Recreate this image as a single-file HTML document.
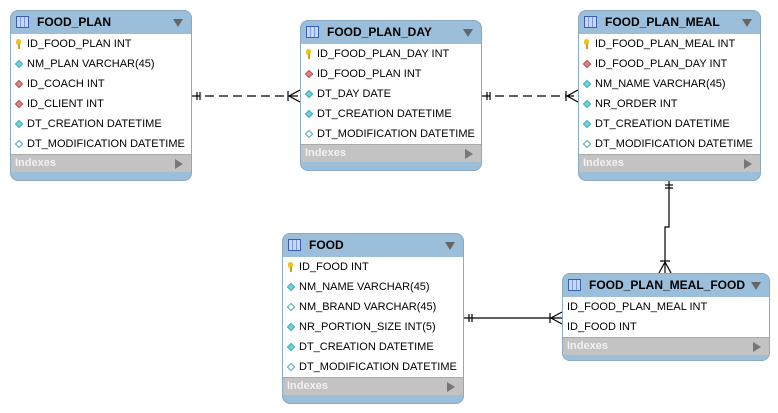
<!DOCTYPE html>
<html><head><meta charset="utf-8"><style>
html,body{margin:0;padding:0;background:#fff;width:778px;height:413px;overflow:hidden}
body{position:relative;font-family:"Liberation Sans",sans-serif}
.t{position:absolute;background:#9bbfda;border:1px solid #8aa9c2;border-radius:8px;overflow:hidden;box-sizing:border-box}
.h{height:23px;position:relative;font-weight:bold;font-size:12px;color:#000;line-height:23px;padding-left:26px}
.h .ic{position:absolute;left:5px;top:5px;width:13px;height:12px;border:1px solid #3a5fb0;background:repeating-linear-gradient(90deg,#c8d8f4 0 3px,#7f9ad6 3px 4px);box-sizing:border-box}
.h .ar{position:absolute;right:8px;top:8px;width:0;height:0;border-left:5px solid transparent;border-right:5px solid transparent;border-top:8px solid #666}
.b{background:#fff}
.r{height:20px;line-height:20px;font-size:11px;color:#000;position:relative;padding-left:16px;white-space:nowrap}
.r.n{padding-left:4px}
.d{position:absolute;left:5px;top:7px;width:6px;height:6px;transform:rotate(45deg);box-sizing:border-box}
.c{background:#6fd3dc;border:1px solid #4aa9b2}
.f{background:#e08080;border:1px solid #b05858}
.o{background:#fff;border:1px solid #4aa9b2}
.k{position:absolute;left:5px;top:5px;width:5px;height:6px;border-radius:3px;background:#f0c020}
.k:after{content:"";position:absolute;left:2px;top:5px;width:2px;height:5px;background:#d0a010}
.x{height:18px;background:#c3c3c3;color:#f2f2f2;font-size:11px;font-weight:bold;line-height:17px;padding-left:4px;position:relative;border-top:1px solid #aaa;box-sizing:border-box}
.x:after{content:"";position:absolute;right:8px;top:4px;border-top:5px solid transparent;border-bottom:5px solid transparent;border-left:8px solid #777}
</style></head><body>
<svg width="778" height="413" style="position:absolute;left:0;top:0" xmlns="http://www.w3.org/2000/svg">
<g stroke="#000" stroke-width="1.2" fill="none">
<line x1="191" y1="96" x2="300" y2="96" stroke-dasharray="9,5"/>
<line x1="197" y1="92" x2="197" y2="100"/><line x1="200" y1="92" x2="200" y2="100"/>
<line x1="288" y1="91" x2="288" y2="101"/><path d="M300 90 L289 96 L300 102"/>
<line x1="481" y1="96" x2="578" y2="96" stroke-dasharray="9,5"/>
<line x1="487" y1="92" x2="487" y2="100"/><line x1="490" y1="92" x2="490" y2="100"/>
<line x1="566" y1="91" x2="566" y2="101"/><path d="M578 90 L567 96 L578 102"/>
<line x1="463" y1="318" x2="562" y2="318"/>
<line x1="469" y1="314" x2="469" y2="322"/><line x1="472" y1="314" x2="472" y2="322"/>
<line x1="550" y1="313" x2="550" y2="323"/><path d="M562 312 L551 318 L562 324"/>
<path d="M669 180 L669 227 L665 227 L665 273"/>
<line x1="665" y1="185" x2="673" y2="185"/><line x1="665" y1="188" x2="673" y2="188"/>
<line x1="660" y1="261" x2="670" y2="261"/><path d="M659 273 L665 262 L671 273"/>
</g></svg>

<div class="t" style="left:10px;top:10px;width:182px;height:171px">
<div class="h"><span class="ic"></span>FOOD_PLAN<span class="ar"></span></div>
<div class="b">
<div class="r"><span class="k"></span>ID_FOOD_PLAN INT</div>
<div class="r"><span class="d c"></span>NM_PLAN VARCHAR(45)</div>
<div class="r"><span class="d f"></span>ID_COACH INT</div>
<div class="r"><span class="d f"></span>ID_CLIENT INT</div>
<div class="r"><span class="d c"></span>DT_CREATION DATETIME</div>
<div class="r"><span class="d o"></span>DT_MODIFICATION DATETIME</div>
</div><div class="x">Indexes</div></div>

<div class="t" style="left:300px;top:20px;width:182px;height:151px">
<div class="h"><span class="ic"></span>FOOD_PLAN_DAY<span class="ar"></span></div>
<div class="b">
<div class="r"><span class="k"></span>ID_FOOD_PLAN_DAY INT</div>
<div class="r"><span class="d f"></span>ID_FOOD_PLAN INT</div>
<div class="r"><span class="d c"></span>DT_DAY DATE</div>
<div class="r"><span class="d c"></span>DT_CREATION DATETIME</div>
<div class="r"><span class="d o"></span>DT_MODIFICATION DATETIME</div>
</div><div class="x">Indexes</div></div>

<div class="t" style="left:578px;top:10px;width:183px;height:171px">
<div class="h"><span class="ic"></span>FOOD_PLAN_MEAL<span class="ar"></span></div>
<div class="b">
<div class="r"><span class="k"></span>ID_FOOD_PLAN_MEAL INT</div>
<div class="r"><span class="d f"></span>ID_FOOD_PLAN_DAY INT</div>
<div class="r"><span class="d c"></span>NM_NAME VARCHAR(45)</div>
<div class="r"><span class="d c"></span>NR_ORDER INT</div>
<div class="r"><span class="d c"></span>DT_CREATION DATETIME</div>
<div class="r"><span class="d o"></span>DT_MODIFICATION DATETIME</div>
</div><div class="x">Indexes</div></div>

<div class="t" style="left:282px;top:233px;width:182px;height:171px">
<div class="h"><span class="ic"></span>FOOD<span class="ar"></span></div>
<div class="b">
<div class="r"><span class="k"></span>ID_FOOD INT</div>
<div class="r"><span class="d c"></span>NM_NAME VARCHAR(45)</div>
<div class="r"><span class="d o"></span>NM_BRAND VARCHAR(45)</div>
<div class="r"><span class="d c"></span>NR_PORTION_SIZE INT(5)</div>
<div class="r"><span class="d c"></span>DT_CREATION DATETIME</div>
<div class="r"><span class="d o"></span>DT_MODIFICATION DATETIME</div>
</div><div class="x">Indexes</div></div>

<div class="t" style="left:562px;top:273px;width:208px;height:88px">
<div class="h"><span class="ic"></span>FOOD_PLAN_MEAL_FOOD<span class="ar"></span></div>
<div class="b">
<div class="r n">ID_FOOD_PLAN_MEAL INT</div>
<div class="r n">ID_FOOD INT</div>
</div><div class="x">Indexes</div></div>
</body></html>
